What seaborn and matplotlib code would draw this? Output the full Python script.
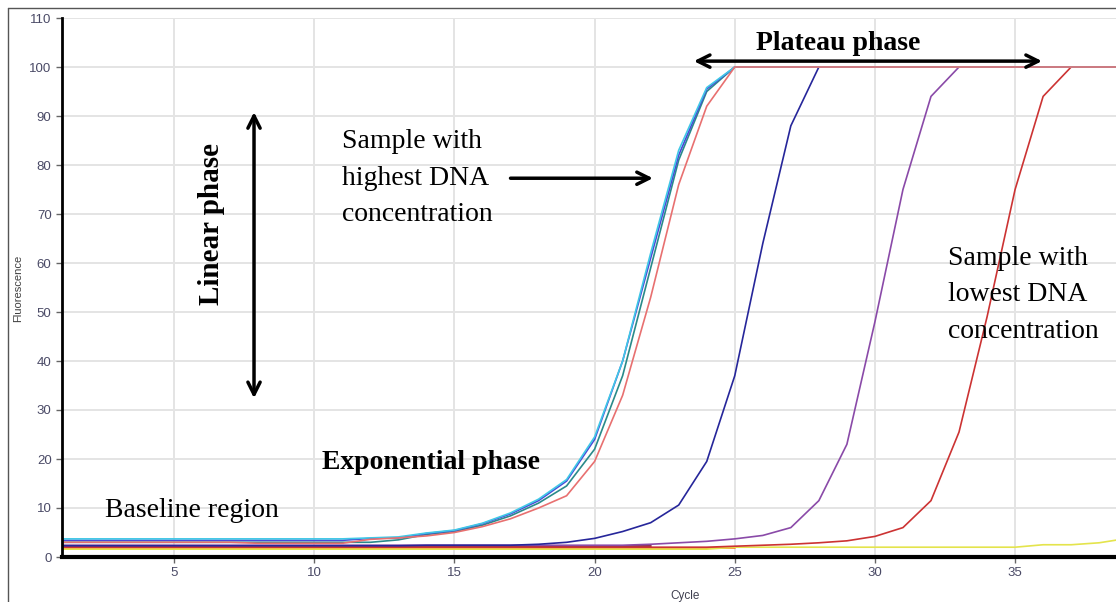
import numpy as np
import pandas as pd
import matplotlib
matplotlib.use("Agg")
import matplotlib.pyplot as plt
import seaborn as sns
from matplotlib.lines import Line2D

# ---------------- data ----------------
cycles = list(range(1, 40))

cyan = [3.7]*11 + [3.9, 4.1, 4.9, 5.5, 6.9, 9.0, 11.8, 15.8, 24.5, 40, 62, 83, 95.8] + [100]*15
blue = [3.4]*11 + [3.8, 3.9, 4.8, 5.4, 6.8, 8.8, 11.5, 15.5, 24, 40, 61, 82, 95.5] + [100]*15
teal = [3.0]*12 + [3.5, 4.6, 5.2, 6.5, 8.4, 11.0, 14.5, 22, 37, 59, 81, 95] + [100]*15
pink = [3.0]*7 + [2.8]*4 + [3.6, 3.9, 4.3, 5.0, 6.2, 7.8, 10.0, 12.5, 19.5, 33, 53, 76, 92] + [100]*15
navy = [2.3]*13 + [2.4]*4 + [2.6, 3.0, 3.8, 5.2, 7.0, 10.6, 19.5, 37, 64, 88] + [100]*12
purple = [2.4]*21 + [2.6, 2.9, 3.2, 3.7, 4.4, 6.0, 11.5, 23, 48, 75, 94] + [100]*7
red = [2.0]*24 + [2.2, 2.4, 2.6, 2.9, 3.3, 4.2, 6.0, 11.5, 25.5, 49, 75, 94] + [100]*3
yellow = [1.6]*24 + [2.0]*11 + [2.5, 2.5, 2.9, 3.8]
orange = [1.9]*25
maroon = [2.3]*22

series = {
    "orange": orange, "maroon": maroon, "yellow": yellow, "red": red,
    "purple": purple, "navy": navy, "teal": teal,
    "blue": blue, "cyan": cyan, "pink": pink,
}
colors = {
    "orange": "#ff7a1a", "maroon": "#7a0a2a", "yellow": "#e4e44c", "red": "#cc3333",
    "purple": "#8a4aa8", "navy": "#26269a", "pink": "#e87070", "teal": "#2a8a8a",
    "blue": "#4848d8", "cyan": "#40c8e6",
}

rows = []
for name, vals in series.items():
    for c, v in zip(cycles, vals):
        rows.append((name, c, v))
df = pd.DataFrame(rows, columns=["Sample", "Cycle", "Fluorescence"])

x_ticks = [5, 10, 15, 20, 25, 30, 35]
y_ticks = list(range(0, 111, 10))

# ---------------- plot ----------------
sns.set_style("white")
plt.rcParams['font.family'] = ['Liberation Sans', 'DejaVu Sans']

W, H = 1116, 602
fig = plt.figure(figsize=(W/100, H/100), dpi=100)
ax = fig.add_axes([62/W, 1-557/H, 1-62/W, (557-18)/H])

sns.lineplot(data=df, x="Cycle", y="Fluorescence", hue="Sample",
             hue_order=list(series.keys()), palette=colors, lw=1.2,
             legend=False, ax=ax, estimator=None, sort=False)

ax.set_xlim(1, 38.6)
ax.set_ylim(0, 110)
ax.set_xticks(x_ticks)
ax.set_yticks(y_ticks)
ax.grid(True, color="#e4e4e4", lw=1.4)
ax.set_axisbelow(True)
for s in ["top", "right"]:
    ax.spines[s].set_visible(False)
ax.spines["left"].set_color("black")
ax.spines["left"].set_linewidth(2)
ax.spines["bottom"].set_color("black")
ax.spines["bottom"].set_linewidth(3)
ax.tick_params(axis="both", which="major", length=4, width=1, color="#666666",
               labelsize=9.5, labelcolor="#4a4a66", direction="out", left=True, bottom=True)
ax.set_xlabel("")
ax.set_ylabel("")

fig.text(18/W, 1-288/H, "Fluorescence", rotation=90, ha="center", va="center",
         fontsize=8, color="#404040")
fig.text(685/W, 1-596/H, "Cycle", ha="center", va="center", fontsize=8.5, color="#404050")

# outer frame
fig.add_artist(Line2D([8/W, 8/W], [0, 1-8/H], transform=fig.transFigure, color="#555555", lw=1))
fig.add_artist(Line2D([8/W, 1], [1-8/H, 1-8/H], transform=fig.transFigure, color="#555555", lw=1))

serif = ['Liberation Serif', 'DejaVu Serif']
arrow_kw = dict(arrowstyle="<->", lw=2.5, color="black", mutation_scale=22, shrinkA=0, shrinkB=0)

# Plateau phase
ax.annotate("", xy=(23.54, 101.2), xytext=(35.96, 101.2), arrowprops=arrow_kw)
ax.text(28.7, 104.7, "Plateau phase", family=serif, fontweight="bold", fontsize=20,
        ha="center", va="center", color="black")

# Linear phase
ax.annotate("", xy=(7.85, 90.8), xytext=(7.85, 32.4), arrowprops=arrow_kw)
ax.text(6.35, 68.0, "Linear phase", family=serif, fontweight="bold", fontsize=21,
        rotation=90, ha="center", va="center", color="black")

# Sample with highest DNA
ax.text(10.98, 77.3, "Sample with\nhighest DNA\nconcentration", family=serif, fontsize=20,
        ha="left", va="center", linespacing=1.6, color="black")
ax.annotate("", xy=(22.08, 77.3), xytext=(17.0, 77.3),
            arrowprops=dict(arrowstyle="->", lw=2.5, color="black", mutation_scale=22,
                            shrinkA=0, shrinkB=0))

ax.text(14.15, 19.2, "Exponential phase", family=serif, fontweight="bold", fontsize=20,
        ha="center", va="center", color="black")
ax.text(5.64, 9.4, "Baseline region", family=serif, fontsize=20, ha="center", va="center",
        color="black")
ax.text(32.6, 53.5, "Sample with\nlowest DNA\nconcentration", family=serif, fontsize=20,
        ha="left", va="center", linespacing=1.6, color="black")

fig.savefig("out.png", dpi=100)
